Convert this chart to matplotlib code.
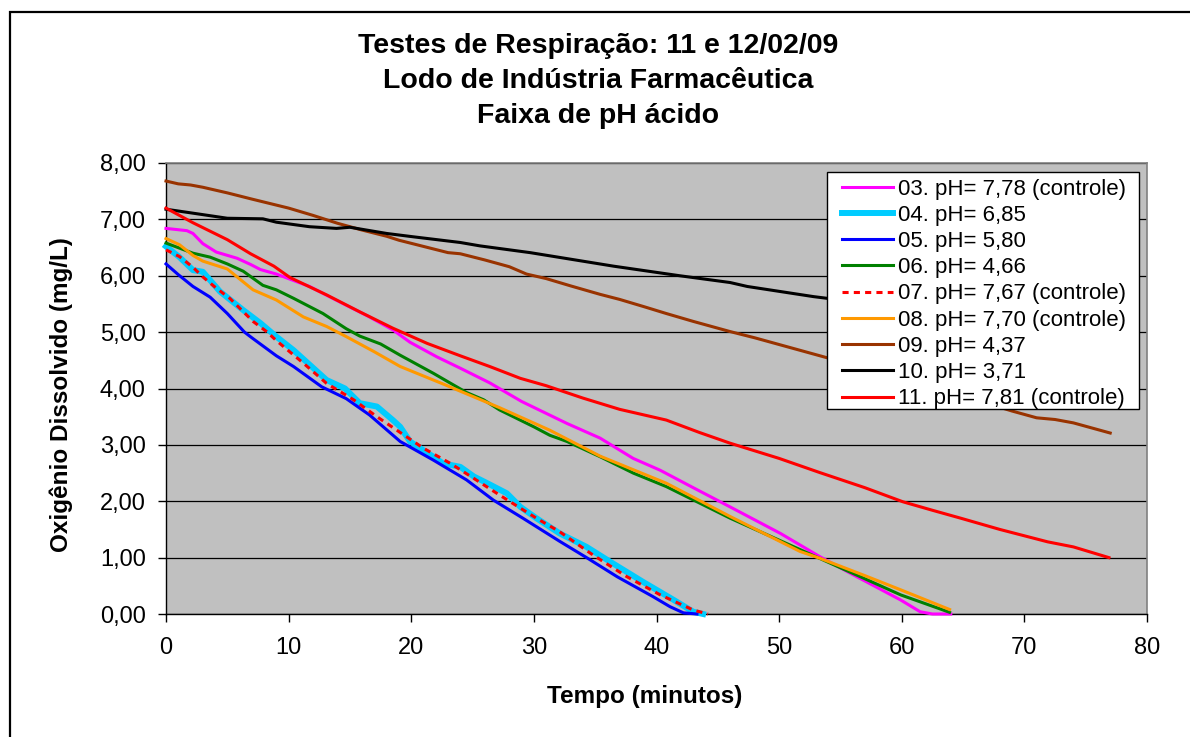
import matplotlib
matplotlib.use("Agg")
import matplotlib.pyplot as plt
from matplotlib.patches import Rectangle
from matplotlib.ticker import FuncFormatter

plt.rcParams['font.family'] = ['Liberation Sans', 'DejaVu Sans']

# ---------------- data ----------------
labels = ["03. pH= 7,78 (controle)", "04. pH= 6,85", "05. pH= 5,80", "06. pH= 4,66",
          "07. pH= 7,67 (controle)", "08. pH= 7,70 (controle)", "09. pH= 4,37",
          "10. pH= 3,71", "11. pH= 7,81 (controle)"]

t03 = [0, 1.7, 2.2, 3, 4.1, 5.8, 6.9, 7.7, 9, 11.7, 14.4, 16.5, 18.5, 19.9, 22.1, 24, 26.4, 29,
       32.7, 35.4, 38.1, 40.3, 43, 46, 50.1, 53.3, 56, 59.9, 61.5, 62.5, 64]
v03 = [6.84, 6.80, 6.75, 6.57, 6.42, 6.31, 6.20, 6.11, 6.03, 5.81, 5.51, 5.28, 5.04, 4.82, 4.56,
       4.36, 4.10, 3.77, 3.38, 3.12, 2.76, 2.55, 2.24, 1.90, 1.43, 1.02, 0.70, 0.25, 0.04, 0.0, 0.0]

t04 = [0, 1.1, 2.2, 3, 3.6, 4.4, 6.3, 7.7, 9, 10.4, 13.1, 14.6, 15.8, 17.2, 18.5, 19.1, 19.9,
       21.8, 22.6, 24, 25.1, 26.2, 27.8, 28.9, 30.2, 32.1, 34.3, 36.2, 38.9, 41.4, 43, 43.8]
v04 = [6.52, 6.33, 6.10, 6.07, 5.92, 5.72, 5.39, 5.16, 4.92, 4.68, 4.15, 4.00, 3.74, 3.68, 3.44,
       3.32, 3.06, 2.79, 2.67, 2.61, 2.44, 2.32, 2.14, 1.90, 1.70, 1.43, 1.19, 0.93, 0.57, 0.25,
       0.04, 0.0]

t05 = [0, 1, 2.2, 3.6, 5, 6.4, 7, 9, 10.4, 12.7, 14.7, 16.6, 19.1, 21.8, 24.5, 26.7, 29.1, 32.1,
       34.3, 36.8, 39.7, 41.1, 42.2, 43.3]
v05 = [6.21, 6.02, 5.81, 5.62, 5.33, 5.00, 4.90, 4.58, 4.39, 4.03, 3.82, 3.53, 3.06, 2.73, 2.38,
       2.02, 1.70, 1.29, 1.00, 0.66, 0.31, 0.13, 0.02, 0.0]

t06 = [0, 2.2, 3.6, 5, 6.3, 7.9, 9, 10.4, 12.8, 14.7, 15.8, 17.5, 19.1, 21.8, 24.5, 25.9, 27.2,
       30, 31.3, 32.7, 35.4, 38.1, 40.8, 46, 50, 55, 59.9, 63.9]
v06 = [6.58, 6.40, 6.33, 6.21, 6.08, 5.83, 5.75, 5.60, 5.33, 5.06, 4.93, 4.79, 4.59, 4.27, 3.93,
       3.80, 3.62, 3.32, 3.17, 3.06, 2.79, 2.50, 2.26, 1.70, 1.31, 0.82, 0.34, 0.03]

t07 = [0, 1.1, 2.2, 3, 4.1, 5.2, 7.1, 8.2, 9, 11.2, 13.1, 15.3, 17.2, 19.1, 21, 23.2, 25, 27.2,
       30.2, 32.1, 34.8, 37.6, 40.3, 43, 44.2]
v07 = [6.46, 6.34, 6.15, 5.98, 5.78, 5.60, 5.19, 5.01, 4.85, 4.45, 4.09, 3.80, 3.50, 3.22, 2.94,
       2.67, 2.42, 2.11, 1.70, 1.46, 1.05, 0.66, 0.34, 0.07, 0.0]

t08 = [0, 1.1, 2.2, 3, 5, 7.1, 9, 11.2, 13.1, 14.7, 17, 19.1, 22.6, 27.2, 31.3, 35.4, 40.8, 46,
       51.7, 53.3, 57, 59.9, 63.9]
v08 = [6.66, 6.55, 6.36, 6.26, 6.12, 5.75, 5.57, 5.27, 5.10, 4.92, 4.65, 4.39, 4.08, 3.66, 3.26,
       2.80, 2.32, 1.73, 1.11, 0.99, 0.68, 0.43, 0.08]

t09 = [0, 1, 2, 3, 5, 7, 10, 12, 14, 16, 18, 19, 21, 23, 24, 26, 28, 29.4, 31, 33, 35.4, 37, 39,
       40.8, 43, 46, 48, 50, 52, 54, 57, 60, 63, 66, 69, 71, 72.5, 74, 75.5, 77]
v09 = [7.68, 7.63, 7.61, 7.57, 7.47, 7.36, 7.20, 7.07, 6.93, 6.81, 6.70, 6.63, 6.52, 6.41, 6.39,
       6.28, 6.16, 6.03, 5.95, 5.82, 5.67, 5.58, 5.45, 5.33, 5.19, 5.01, 4.90, 4.78, 4.66, 4.54,
       4.36, 4.18, 4.00, 3.80, 3.60, 3.48, 3.45, 3.39, 3.30, 3.21]

t10 = [0, 2.2, 5, 7.9, 9, 11.7, 13.9, 15, 18, 20.2, 24, 25.6, 29.7, 36.5, 41.9, 46, 47.4, 52.8,
       53.9, 60, 65, 70, 77]
v10 = [7.18, 7.11, 7.02, 7.01, 6.95, 6.87, 6.84, 6.86, 6.75, 6.69, 6.59, 6.53, 6.41, 6.17, 6.00,
       5.88, 5.81, 5.63, 5.60, 5.42, 5.27, 5.12, 4.92]

t11 = [0, 2.2, 5, 6.9, 8.8, 10.1, 13.1, 15.8, 18.5, 21.3, 24, 26.4, 28.9, 31, 34, 37, 40.8, 43.5,
       46, 50, 53.3, 57, 60.1, 62.5, 64.8, 68, 71.9, 74, 76.9]
v11 = [7.20, 6.94, 6.64, 6.39, 6.17, 5.97, 5.66, 5.36, 5.07, 4.80, 4.58, 4.39, 4.18, 4.05, 3.83,
       3.63, 3.44, 3.22, 3.03, 2.76, 2.51, 2.24, 1.99, 1.84, 1.70, 1.50, 1.28, 1.19, 1.00]

times = [t03, t04, t05, t06, t07, t08, t09, t10, t11]
values = [v03, v04, v05, v06, v07, v08, v09, v10, v11]
colors = ["#FF00FF", "#00CCFF", "#0000FF", "#008000", "#FF0000", "#FF9900", "#993300",
          "#000000", "#FF0000"]
widths = [2.2, 4.3, 2.2, 2.2, 2.2, 2.2, 2.2, 2.2, 2.2]
styles = ["-", "-", "-", "-", (0, (2.0, 1.7)), "-", "-", "-", "-"]

title_lines = ["Testes de Respiração: 11 e 12/02/09", "Lodo de Indústria Farmacêutica",
               "Faixa de pH ácido"]
xlabel = "Tempo (minutos)"
ylabel = "Oxigênio Dissolvido (mg/L)"
xticks = list(range(0, 81, 10))
yticks = [0, 1, 2, 3, 4, 5, 6, 7, 8]

# ---------------- figure ----------------
W, H = 1190, 737
fig = plt.figure(figsize=(W / 100, H / 100), dpi=100)
fig.patch.set_facecolor("white")

# chart-area border (cut off at right and bottom)
fig.patches.append(Rectangle((10 / W, -0.05), 1.1, 1 - 12 / H + 0.05, transform=fig.transFigure,
                             fill=False, edgecolor="black", linewidth=1.6, zorder=0))

ax = fig.add_axes([166 / W, 1 - 614 / H, (1147 - 166) / W, (614 - 163) / H])
ax.set_facecolor("#C0C0C0")
ax.set_xlim(0, 80)
ax.set_ylim(0, 8)
ax.set_xticks(xticks)
ax.set_yticks(yticks)
ax.yaxis.set_major_formatter(FuncFormatter(lambda v, p: f"{v:.2f}".replace(".", ",")))
ax.set_axisbelow(True)
ax.yaxis.grid(True, color="black", linewidth=0.9)
ax.xaxis.grid(False)
for s in ["top", "right"]:
    ax.spines[s].set_color("#808080")
    ax.spines[s].set_linewidth(1.2)
for s in ["left", "bottom"]:
    ax.spines[s].set_color("black")
    ax.spines[s].set_linewidth(1.0)
ax.tick_params(axis="both", direction="out", length=6, width=1, colors="black", labelsize=17)
ax.tick_params(axis="y", pad=8.5)
ax.tick_params(axis="x", pad=10.5)

handles = []
for i in range(len(times)):
    ln, = ax.plot(times[i], values[i], color=colors[i], linewidth=widths[i], linestyle=styles[i],
                  label=labels[i], zorder=3 + i, solid_joinstyle="round", clip_on=False)
    handles.append(ln)

# legend frame drawn explicitly, legend entries without their own frame
fig.patches.append(Rectangle((827 / W, 1 - 409 / H), (1139 - 827) / W, (409 - 172) / H,
                             transform=fig.transFigure, facecolor="white", edgecolor="black",
                             linewidth=1.0, zorder=19))
leg = fig.legend(handles=handles, labels=labels, loc="upper left",
                 bbox_to_anchor=(842 / W, 1 - 178.5 / H), fontsize=16, frameon=False,
                 borderpad=0, labelspacing=0.235, handlelength=2.3, handletextpad=0.2,
                 borderaxespad=0)
leg.set_zorder(20)

# titles
for k, line in enumerate(title_lines):
    fig.text(598 / W, 1 - (53 + 35 * k) / H, line, ha="center", va="baseline",
             fontsize=20.5, fontweight="bold")

fig.text(645 / W, 1 - 697 / H, xlabel, ha="center", va="center", fontsize=17.5,
         fontweight="bold")
fig.text(61 / W, 1 - 395 / H, ylabel, ha="center", va="center", rotation=90, fontsize=17.5,
         fontweight="bold")

fig.savefig("out.png", dpi=100)
